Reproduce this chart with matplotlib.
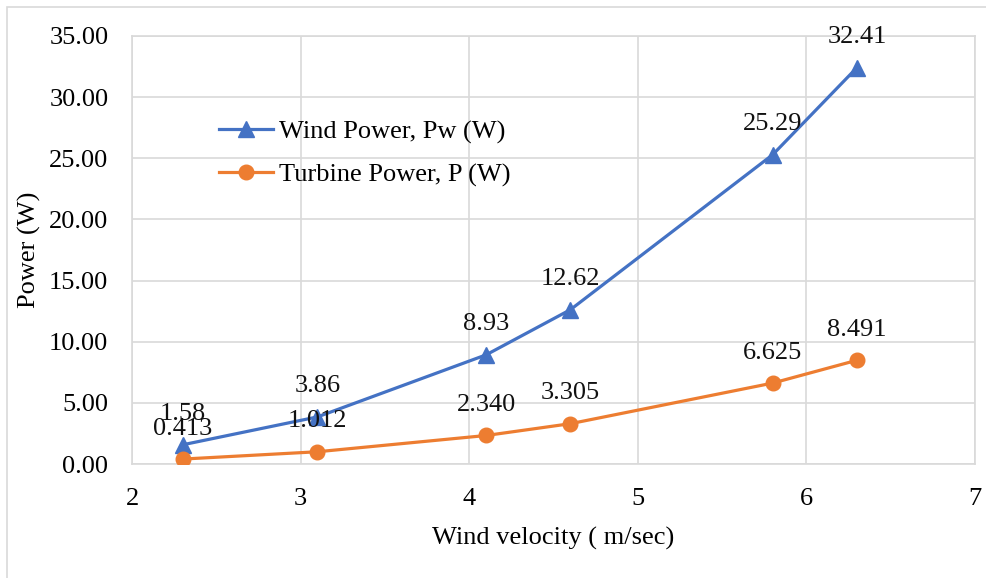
import matplotlib.pyplot as plt
from matplotlib.patches import Rectangle

plt.rcParams['font.family'] = ['Liberation Serif', 'DejaVu Serif']

# wind tunnel measurements
velocity = [2.3, 3.1, 4.1, 4.6, 5.8, 6.3]
wind_power = [1.58, 3.86, 8.93, 12.62, 25.29, 32.41]
turbine_power = [0.413, 1.012, 2.340, 3.305, 6.625, 8.491]
wind_labels = ['1.58', '3.86', '8.93', '12.62', '25.29', '32.41']
turbine_labels = ['0.413', '1.012', '2.340', '3.305', '6.625', '8.491']

blue = '#4472C4'
orange = '#ED7D31'
grid_col = '#D9D9D9'
fs = 19

fig = plt.figure(figsize=(9.86, 5.78), dpi=100)
ax = fig.add_axes([0.1339, 0.197, 0.855, 0.741])

# light frame round the whole chart (runs off the right and bottom edges)
fig.patches.append(Rectangle((7 / 986, -0.05), 1.1, 1.038, transform=fig.transFigure,
                             fill=False, edgecolor=grid_col, linewidth=1.2))

ax.plot(velocity, wind_power, color=blue, lw=2.3, marker='^', ms=11,
        label='Wind Power, Pw (W)', zorder=3)
ax.plot(velocity, turbine_power, color=orange, lw=2.3, marker='o', ms=10.5,
        label='Turbine Power, P (W)', zorder=3)

for x, y, t in zip(velocity, wind_power, wind_labels):
    ax.annotate(t, (x, y), xytext=(0, 22), textcoords='offset points',
                ha='center', va='center', fontsize=fs, color='#111111', zorder=4)
for x, y, t in zip(velocity, turbine_power, turbine_labels):
    ax.annotate(t, (x, y), xytext=(0, 22), textcoords='offset points',
                ha='center', va='center', fontsize=fs, color='#111111', zorder=4)

ax.set_xlim(2, 7)
ax.set_ylim(0, 35)
ax.set_xticks(range(2, 8))
ax.set_yticks(range(0, 36, 5))
ax.set_yticklabels([f'{v:.2f}' for v in range(0, 36, 5)])
ax.tick_params(length=0, labelsize=fs, pad=17)
ax.grid(True, color=grid_col, lw=1.2)
ax.set_axisbelow(True)
for s in ax.spines.values():
    s.set_color(grid_col)
    s.set_linewidth(1.2)

ax.set_xlabel('Wind velocity ( m/sec)', fontsize=fs, labelpad=12)
ax.set_ylabel('Power (W)', fontsize=fs, labelpad=6)

ax.legend(loc='upper left', bbox_to_anchor=(0.091, 0.828), frameon=False,
          fontsize=fs, handlelength=2.05, handletextpad=0.2, labelspacing=0.72,
          borderaxespad=0)

fig.savefig('out.png', dpi=100)
